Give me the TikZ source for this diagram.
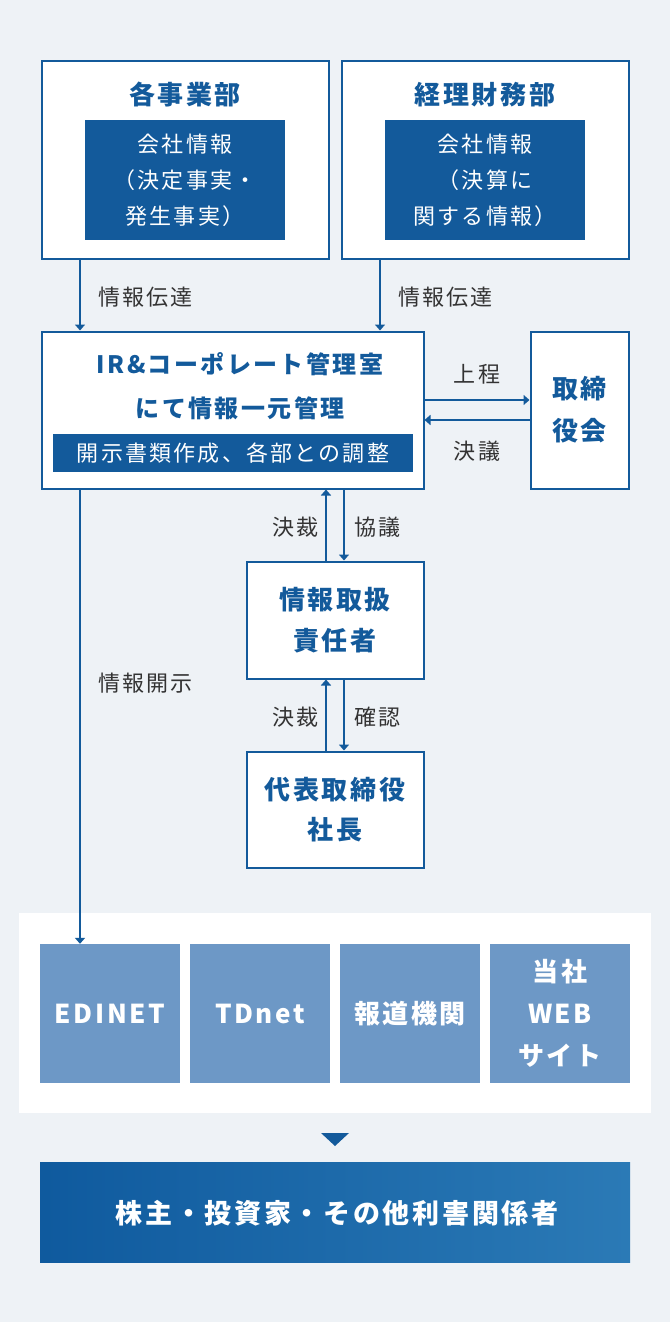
\documentclass[tikz,border=0pt]{standalone}
\usepackage{fontspec}
\setmainfont{Noto Sans CJK JP}[LetterSpace=10]
\usetikzlibrary{arrows.meta}
\definecolor{bg}{HTML}{EEF2F6}
\definecolor{navy}{HTML}{135A9B}
\definecolor{lbl}{HTML}{333333}
\definecolor{media}{HTML}{6D98C6}
\definecolor{gl}{HTML}{0F5A9E}
\definecolor{gr}{HTML}{2B7AB6}
\tikzset{
  box/.style={draw=navy, line width=2pt, fill=white, inner sep=0pt},
  darkbox/.style={fill=navy, inner sep=0pt, text=white, align=center, font=\fontsize{22}{36}\selectfont},
  ttl/.style={text=navy, align=center, font=\fontsize{26}{42}\selectfont\bfseries, inner sep=0pt},
  irt/.style={text=navy, align=center, font=\fontsize{24}{44}\selectfont\bfseries, inner sep=0pt},
  lab/.style={text=lbl, font=\fontsize{22}{26}\selectfont, inner sep=0pt},
  arr/.style={draw=navy, line width=2pt, -{Triangle[width=10pt,length=6pt]}},
  mediabox/.style={fill=media, minimum width=140pt, minimum height=139pt, inner sep=0pt, text=white, align=center, font=\fontsize{26}{42}\selectfont\bfseries},
}
\begin{document}
\begin{tikzpicture}[x=1pt,y=-1pt]
\useasboundingbox (0,0) rectangle (670,1322);
\fill[bg] (0,0) rectangle (670,1322);
% top boxes
\node[box, minimum width=287pt, minimum height=197pt] (b1) at (185,160) {};
\node[ttl] (t1) at (185,95) {各事業部};
\node[darkbox, minimum width=200pt, minimum height=120pt] (i1) at (185,180) {会社情報\\（決定事実・\\発生事実）};
\node[box, minimum width=287pt, minimum height=197pt] (b2) at (485,160) {};
\node[ttl] (t2) at (485,95) {経理財務部};
\node[darkbox, minimum width=200pt, minimum height=120pt] (i2) at (485,180) {会社情報\\（決算に\\関する情報）};
% IR box
\node[box, minimum width=382pt, minimum height=157pt] (b3) at (232.5,410) {};
\node[irt] (t3) at (240,386) {IR\&コーポレート管理室\\にて情報一元管理};
\node[darkbox, minimum width=360pt, minimum height=38pt, font=\fontsize{22}{26}\selectfont] (i3) at (233,453) {開示書類作成、各部との調整};
% board
\node[box, ttl, minimum width=98pt, minimum height=157pt] (tori) at (579.5,410) {取締\\役会};
% officer
\node[box, ttl, minimum width=177pt, minimum height=117pt, font=\fontsize{26}{41}\selectfont\bfseries] (sek) at (335,620) {情報取扱\\責任者};
\node[box, ttl, minimum width=177pt, minimum height=116pt, font=\fontsize{26}{40}\selectfont\bfseries] (pres) at (335,809.5) {代表取締役\\社長};
% media panel
\fill[white] (19,913) rectangle (651,1113);
\node[mediabox] (m1) at (110,1013.5) {EDINET};
\node[mediabox] (m2) at (260,1013.5) {TDnet};
\node[mediabox] (m3) at (410,1013.5) {報道機関};
\node[mediabox] (m4) at (560,1013.5) {当社\\WEB\\サイト};
% triangle
\fill[navy] (321,1133) -- (349,1133) -- (335,1146) -- cycle;
% stakeholders
\node[left color=gl, right color=gr, minimum width=590pt, minimum height=100pt, inner sep=0pt] (st) at (335,1212) {};
\node[text=white, font=\fontsize{27}{30}\selectfont\bfseries, inner sep=0pt] (stt) at (337,1213) {株主・投資家・その他利害関係者};
% coordinates
\coordinate (xa) at (80,0);
\coordinate (xb) at (380,0);
\coordinate (xu) at (326,0);
\coordinate (xd) at (344,0);
\coordinate (ya) at (0,400);
\coordinate (yb) at (0,420);
% arrows
\draw[arr] (b1.south -| xa) -- (b3.north -| xa);
\draw[arr] (b2.south -| xb) -- (b3.north -| xb);
\draw[arr] (b3.east |- ya) -- (tori.west |- ya);
\draw[arr] (tori.west |- yb) -- (b3.east |- yb);
\draw[arr] (sek.north -| xu) -- (b3.south -| xu);
\draw[arr] (b3.south -| xd) -- (sek.north -| xd);
\draw[arr] (pres.north -| xu) -- (sek.south -| xu);
\draw[arr] (sek.south -| xd) -- (pres.north -| xd);
\draw[arr] (b3.south -| xa) -- (m1.north -| xa);
% labels
\node[lab, anchor=west] (l1) at (98,297) {情報伝達};
\node[lab, anchor=west] (l2) at (398,297) {情報伝達};
\node[lab] (l3) at (477,374) {上程};
\node[lab] (l4) at (477,451) {決議};
\node[lab, anchor=east] (l5) at (319,527) {決裁};
\node[lab, anchor=west] (l6) at (354,527) {協議};
\node[lab, anchor=east] (l7) at (319,717) {決裁};
\node[lab, anchor=west] (l8) at (354,717) {確認};
\node[lab, anchor=west] (l9) at (98,683) {情報開示};
\end{tikzpicture}
\end{document}
